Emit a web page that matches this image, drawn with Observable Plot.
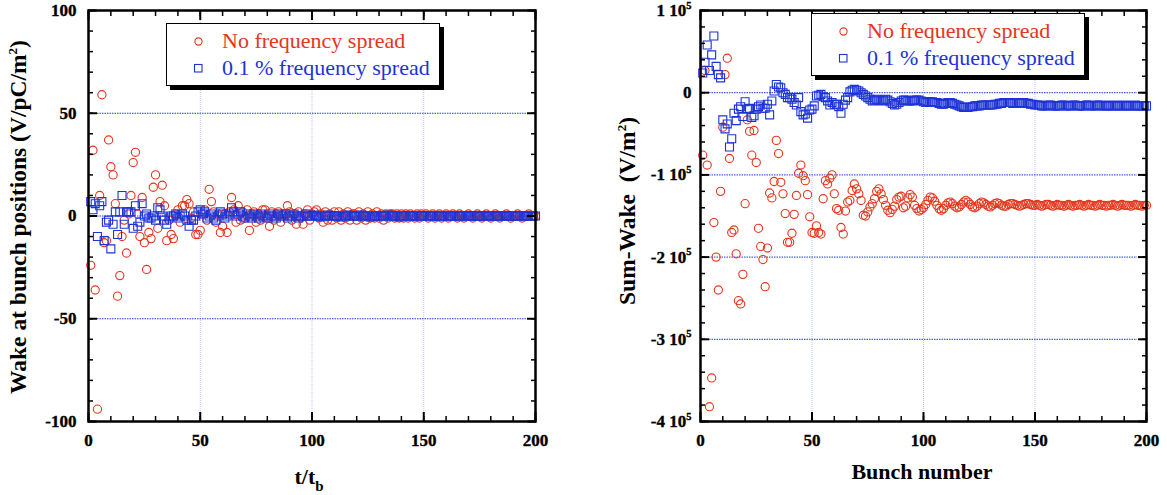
<!DOCTYPE html>
<html><head><meta charset="utf-8">
<script src="https://cdn.jsdelivr.net/npm/d3@7"></script>
<script src="https://cdn.jsdelivr.net/npm/@observablehq/plot@0.6"></script>
<style>
body{margin:0;background:#fff;}
#wrap{position:relative;width:1167px;height:495px;overflow:hidden;font-family:"Liberation Serif","Times New Roman",serif;color:#000;}
.panel{position:absolute;top:0;}
.ytitle{position:absolute;font-weight:bold;font-size:23.5px;line-height:1;white-space:nowrap;transform:translate(-50%,-50%) rotate(-90deg);}
.xtitle{position:absolute;font-weight:bold;font-size:22px;line-height:1;white-space:nowrap;transform:translateX(-50%);}
sup{font-size:13px;vertical-align:0;position:relative;top:-9px;}
sub{font-size:15px;vertical-align:0;position:relative;top:7px;}
.legend{position:absolute;background:#fff;border:1.5px solid #000;box-shadow:4px 4px 0 #000;font-size:22px;box-sizing:border-box;}
.legend .sym{position:absolute;}
.legend .lt{position:absolute;white-space:nowrap;line-height:1;}
</style></head>
<body>
<div id="wrap"></div>
<script>
// ---------- data ----------
const bunches = d3.range(1, 201);

// Left panel: wake at bunch positions (V/pC/m^2)
const leftNoSpread = [
 -24, 32, -36, -94, 10, 59, -13, -12, 37, 24,
 20, 6, -39, -29, -10, -2, -18, 1, 10, 26,
 31, 1, -10, 9, -13, -26, -8, -11, 14, 20,
 -6, 7, 15, 5, -12, -2, -9, -11, 1, 3,
 -3, 5, 5, 8, 6, -1, 2, -9, -9, -7,
 1, 3, -2, 13, 7, 2, -3, 1, -8, -5,
 1, -8, 2, 9, 3, -3, 5, -2, 2, -1,
 3, -7, 1, 2, -3, 1, -2, 3, 3, -1,
 -5, 2, -2, 1, 2, -3, 1, 1, 5, 2,
 -2, 1, -4, 2, -1, -4, 1, 3, -2, 1,
 2, 3, -1, 1, -3, 2, -2, 1, -2, 2,
 -1, 2, -2, 1, -1, 2, -2, 1, 1, -2,
 2, -1, 1, -2, 2, -1, 1, -1, 2, -1,
 1, -2, 1, -1, 1, 1, -1, 1, -1, 1,
 -1, 1, -1, 1, 0, -1, 1, -1, 1, 0,
 1, -1, 0, 1, -1, 0, 1, -1, 0, 1,
 -1, 0, 1, 0, -1, 1, 0, -1, 0, 1,
 0, -1, 0, 1, 0, -1, 0, 1, 0, -1,
 0, 1, 0, -1, 0, 0, 1, 0, -1, 0,
 0, 1, 0, -1, 0, 0, 1, 0, 0, 0
];
const leftSpread = [
 7, 3, 6, -10, 5, 7, -12, -3, -2, -16,
 -4, 2, -9, 2, 10, -4, 2, 2, 2, -6,
 5, -5, -3, 6, 0, 1, -1, -1, 0, -2,
 4, 3, 0, -2, -4, -1, 0, 0, 1, -1,
 0, 1, 0, -2, -5, -2, -2, 0, 2, 3,
 1, 2, -1, 0, 1, -1, -2, 0, 2, 1,
 -1, 0, 1, 4, 2, 0, 1, 2, 0, -1,
 1, 0, -1, 1, 0, -1, 1, 0, 0, -1,
 1, 0, 0, -1, 1, 0, 0, 1, -1, 0,
 0, 1, 0, -1, 0, 0, 1, 0, 0, 0,
 0.5, 0, 0, -0.5, 0, 0, 0.5, 0, 0, 0,
 0, 0, -0.5, 0, 0, 0.5, 0, 0, 0, 0,
 0, 0.5, 0, 0, 0, -0.5, 0, 0, 0, 0,
 0, 0, 0, 0.5, 0, 0, 0, 0, -0.5, 0,
 0, 0, 0, 0, 0, 0, 0, 0, 0, 0,
 0, 0, 0, 0, 0, 0, 0, 0, 0, 0,
 0, 0, 0, 0, 0, 0, 0, 0, 0, 0,
 0, 0, 0, 0, 0, 0, 0, 0, 0, 0,
 0, 0, 0, 0, 0, 0, 0, 0, 0, 0,
 0, 0, 0, 0, 0, 0, 0, 0, 0, 0
];

// Right panel: sum-wake (units of 10^3 V/m^2)
const rightNoSpreadK = [
 -76, 27, -88, -382, -347, -158, -200, -240, -120, -42,
 22, 42, -80, -170, -167, -196, -253, -257, -221, -135,
 -33, -47, -76, -46, -85, -165, -187, -203, -236, -189,
 -122, -128, -108, -58, -74, -109, -123, -147, -182, -182,
 -171, -148, -125, -98, -88, -101, -107, -124, -151, -170,
 -171, -162, -170, -172, -129, -107, -111, -104, -100, -123,
 -141, -143, -164, -172, -144, -133, -131, -119, -111, -117,
 -123, -131, -149, -150, -145, -139, -135, -129, -120, -117,
 -123, -130, -137, -143, -146, -142, -138, -130, -127, -126,
 -140, -138, -128, -124, -127, -137, -141, -144, -142, -140,
 -136, -131, -127, -128, -132, -137, -141, -143, -141, -137,
 -134, -133, -135, -138, -140, -139, -136, -133, -131, -133,
 -136, -139, -140, -138, -135, -133, -134, -136, -138, -139,
 -137, -135, -134, -135, -137, -138, -138, -136, -135, -135,
 -136, -137, -138, -137, -136, -135, -135, -136, -137, -137,
 -136, -137, -138, -137, -136, -136, -137, -138, -137, -136,
 -137, -137, -138, -137, -136, -137, -138, -137, -137, -136,
 -137, -138, -137, -136, -137, -137, -138, -137, -136, -137,
 -137, -138, -137, -137, -136, -137, -138, -137, -136, -137,
 -137, -137, -138, -137, -136, -137, -137, -138, -137, -137
];
const rightSpreadK = [
 24, 37, 58, 27, 46, 69, 32, 22, 18, -33,
 -44, -38, -66, -56, -25, -34, -20, -17, -29, -11,
 -20, -19, -30, -28, -20, -17, -15, -19, -19, -14,
 -27, -10, 2, 10, 7, 6, 0, -2, -6, -6,
 -8, -12, -15, -6, -23, -27, -26, -31, -21, -20,
 -16, -4, -3, -2, -5, -6, -10, -15, -12, -14,
 -14, -17, -25, -14, -9, -6, 1, 3, 4, 3,
 2, 0, -2, -4, -6, -8, -10, -9, -8, -9,
 -10, -9, -8, -9, -11, -13, -15, -14, -12, -10,
 -9, -9, -10, -10, -10, -9, -9, -9, -10, -11,
 -12, -11, -11, -11, -12, -12, -13, -14, -14, -13,
 -12, -12, -13, -14, -15, -16, -17, -18, -18, -18,
 -17, -17, -16, -16, -16, -15, -15, -15, -15, -15,
 -15, -14, -14, -13, -13, -12, -12, -12, -12, -13,
 -13, -13, -12, -12, -12, -13, -13, -14, -14, -15,
 -15, -15, -16, -16, -16, -15, -15, -16, -16, -16,
 -16, -15, -15, -16, -16, -16, -15, -15, -16, -16,
 -16, -16, -15, -15, -16, -16, -16, -15, -15, -16,
 -16, -16, -15, -16, -16, -16, -15, -16, -16, -16,
 -15, -16, -16, -16, -15, -16, -16, -16, -16, -16
];

// axis ticks / grid
const xMajor = [0, 50, 100, 150, 200];
const xMinor = d3.range(0, 201, 10);
const xGrid = [50, 100, 150];
const leftYMajor = [-100, -50, 0, 50, 100];
const leftYMinor = d3.range(-100, 101, 10);
const leftYGrid = [-50, 0, 50];
const rightYMajor = [-400, -300, -200, -100, 0, 100];
const rightYMinor = d3.range(-400, 101, 20);
const rightYGrid = [-300, -200, -100, 0];
const rightYLabels = {"100": "1 10⁵", "0": "0", "-100": "-1 10⁵", "-200": "-2 10⁵", "-300": "-3 10⁵", "-400": "-4 10⁵"};

const seriesNames = ["No frequency spread", "0.1 % frequency spread"];
const RED = "#e5351c", BLUE = "#1d33d6";
const GRID_H = "#1a3ae0", GRID_V = "#a8b2f2";
const FONT = "Liberation Serif";

function axes(xm, xn, ym, yn, yfmt, ypad) {
  const common = {label: null};
  const txt = {fontFamily: FONT, fontWeight: "bold", fontSize: 17};
  return [
    Plot.axisX(xn, {...common, anchor: "bottom", tickSize: -5, fill: "none", strokeWidth: 1.5}),
    Plot.axisX(xm, {...common, ...txt, anchor: "bottom", tickSize: -9, tickPadding: 21, strokeWidth: 2, tickFormat: d => String(d)}),
    Plot.axisX(xn, {...common, anchor: "top", tickSize: -5, fill: "none", strokeWidth: 1.5}),
    Plot.axisX(xm, {...common, anchor: "top", tickSize: -9, fill: "none", strokeWidth: 2}),
    Plot.axisY(yn, {...common, anchor: "left", tickSize: -5, fill: "none", strokeWidth: 1.5}),
    Plot.axisY(ym, {...common, ...txt, anchor: "left", tickSize: -9, tickPadding: ypad + 9, strokeWidth: 2, tickFormat: yfmt}),
    Plot.axisY(yn, {...common, anchor: "right", tickSize: -5, fill: "none", strokeWidth: 1.5}),
    Plot.axisY(ym, {...common, anchor: "right", tickSize: -9, fill: "none", strokeWidth: 2})
  ];
}

const style = {fontFamily: FONT, fontSize: "17px", fontWeight: "bold", color: "#000", background: "transparent", overflow: "visible"};

const left = Plot.plot({
  width: 583, height: 495,
  marginLeft: 88, marginRight: 48, marginTop: 10, marginBottom: 74,
  x: {domain: [0, 200], label: null},
  y: {domain: [-100, 100], label: null},
  style,
  marks: [
    Plot.ruleX(xGrid, {stroke: GRID_V, strokeWidth: 0.8, strokeDasharray: "1,1"}),
    Plot.ruleY(leftYGrid, {stroke: GRID_H, strokeWidth: 1, strokeDasharray: "1.5,1", insetLeft: 9, insetRight: 9}),
    Plot.dot(leftNoSpread, {x: bunches, y: leftNoSpread, r: 4.1, stroke: RED, strokeWidth: 1.1}),
    Plot.dot(leftSpread, {x: bunches, y: leftSpread, symbol: "square", r: 4.5, stroke: BLUE, strokeWidth: 1.1}),
    ...axes(xMajor, xMinor, leftYMajor, leftYMinor, d => String(d), 12),
    Plot.frame({stroke: "#000", strokeWidth: 2.5})
  ]
});

const right = Plot.plot({
  width: 584, height: 495,
  marginLeft: 117, marginRight: 21, marginTop: 10, marginBottom: 74,
  x: {domain: [0, 200], label: null},
  y: {domain: [-400, 100], label: null},
  style,
  marks: [
    Plot.ruleX(xGrid, {stroke: GRID_V, strokeWidth: 0.8, strokeDasharray: "1,1"}),
    Plot.ruleY(rightYGrid, {stroke: GRID_H, strokeWidth: 1, strokeDasharray: "1.5,1", insetLeft: 9, insetRight: 9}),
    Plot.dot(rightNoSpreadK, {x: bunches, y: rightNoSpreadK, r: 4.1, stroke: RED, strokeWidth: 1.1}),
    Plot.dot(rightSpreadK, {x: bunches, y: rightSpreadK, symbol: "square", r: 4.5, stroke: BLUE, strokeWidth: 1.1}),
    ...axes(xMajor, xMinor, rightYMajor, rightYMinor, d => rightYLabels[String(d)], 9),
    Plot.frame({stroke: "#000", strokeWidth: 2.5})
  ]
});

const wrap = document.getElementById("wrap");
left.classList.add("panel"); left.style.left = "0px";
right.classList.add("panel"); right.style.left = "583px";
wrap.appendChild(left); wrap.appendChild(right);

// serif bold tick labels (slightly heavier), superscript exponent in right y labels
for (const svg of [left, right]) {
  d3.select(svg).selectAll("text").each(function () {
    const sel = d3.select(this);
    sel.style("font-family", "'Liberation Serif', serif", "important")
       .style("font-weight", "bold", "important")
       .style("font-size", "17px", "important")
       .attr("stroke", "#000").attr("stroke-width", 0.35);
    const t = this.textContent;
    if (t.endsWith("⁵")) {
      sel.text(null);
      sel.append("tspan").text(t.slice(0, -1));
      sel.append("tspan").attr("dy", "-0.7em").style("font-size", "10.5px").text("5");
    }
  });
}

function addHTML(html) { wrap.insertAdjacentHTML("beforeend", html); }

// axis titles
addHTML(`<div class="ytitle" style="left:19px;top:217px">Wake at bunch positions (V/pC/m<sup>2</sup>)</div>`);
addHTML(`<div class="ytitle" style="left:628px;top:211px">Sum-Wake&nbsp;&nbsp;(V/m<sup>2</sup>)</div>`);
addHTML(`<div class="xtitle" style="left:309px;top:466px">t/t<sub>b</sub></div>`);
addHTML(`<div class="xtitle" style="left:922px;top:461px">Bunch number</div>`);

// legends
function legend(x, y) {
  const circ = `<svg class="sym" style="left:26px;top:12px" width="11" height="11"><circle cx="5.5" cy="5.5" r="3.6" fill="none" stroke="${RED}" stroke-width="1.1"/></svg>`;
  const sq = `<svg class="sym" style="left:26px;top:39px" width="11" height="11"><rect x="1.5" y="1.5" width="7.5" height="7.5" fill="none" stroke="${BLUE}" stroke-width="1.1"/></svg>`;
  addHTML(`<div class="legend" style="left:${x}px;top:${y}px;width:274px;height:63px">
    ${circ}<span class="lt" style="left:55px;top:6px;color:${RED}">${seriesNames[0]}</span>
    ${sq}<span class="lt" style="left:55px;top:33px;color:${BLUE}">${seriesNames[1]}</span>
  </div>`);
}
legend(166, 23);
legend(811, 13);
</script>
</body></html>
